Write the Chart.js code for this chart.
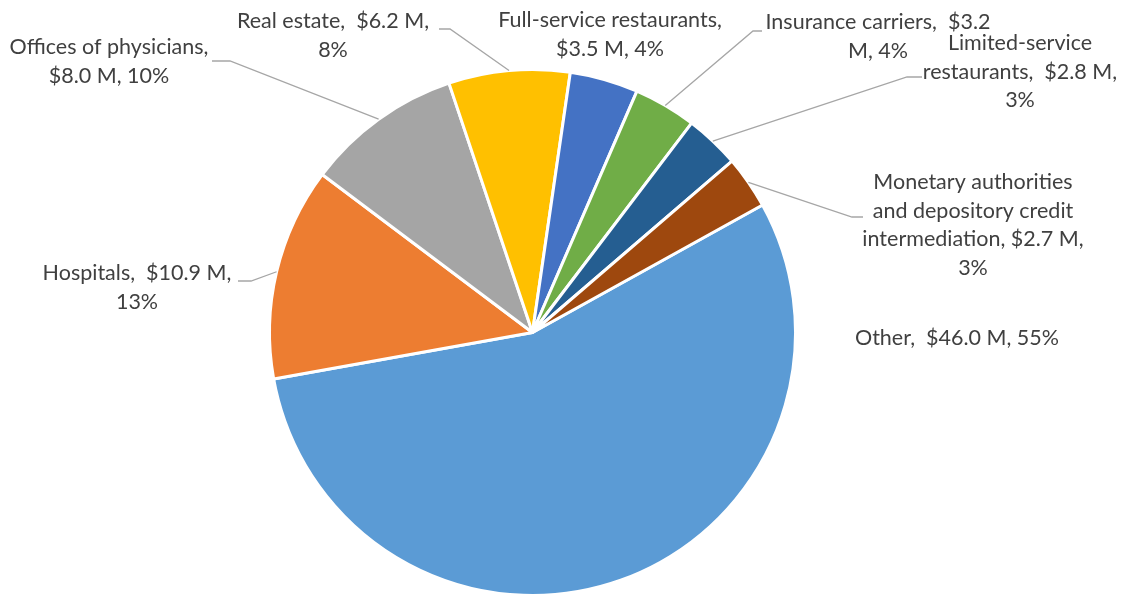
<!DOCTYPE html>
<html>
<head>
<meta charset="utf-8">
<script src="https://cdn.jsdelivr.net/npm/chart.js@4.4.1/dist/chart.umd.min.js"></script>
<style>
  html, body { margin: 0; padding: 0; background: #fff; }
  #wrap { width: 1132px; height: 597px; }
</style>
</head>
<body>
<div id="wrap"><canvas id="pieChart" width="1132" height="597"></canvas></div>
<script>
const categories = [
    'Other',
    'Hospitals',
    'Offices of physicians',
    'Real estate',
    'Full-service restaurants',
    'Insurance carriers',
    'Limited-service restaurants',
    'Monetary authorities and depository credit intermediation'
];
const amounts = [46.0, 10.9, 8.0, 6.2, 3.5, 3.2, 2.8, 2.7];   // $ M
const percents = [55, 13, 10, 8, 4, 4, 3, 3];
const colors = ['#5B9BD5', '#ED7D31', '#A5A5A5', '#FFC000', '#4472C4', '#70AD47', '#255E91', '#9E480E'];

// where each data label wraps onto a new line
const breaks = [[], ['13%'], ['$8.0'], ['8%'], ['$3.5'], ['M, 4%'], ['restaurants,', '3%'], ['and', 'intermediation,', '3%']];

// label layout: centre x, first line y, leader [startX, y, elbowX] or null
const labelPos = [
    [957, 338, null],
    [137, 273, [238, 281, 251]],
    [109, 47, [212, 61, 230]],
    [333, 21, [439, 29, 450]],
    [610, 20, null],
    [878, 22, [762, 31, 753]],
    [1020, 43, [922, 77, 907]],
    [973, 182, [863, 217, 852]]
];

const FONT = '21.5px Lato, "Open Sans", sans-serif';
const LINE_H = 28.7;

function labelLines(i) {
    const text = categories[i] + ',  $' + amounts[i].toFixed(1) + ' M, ' + percents[i] + '%';
    const lines = [];
    let from = 0;
    breaks[i].forEach(b => {
        const at = text.indexOf(b, from);
        lines.push(text.slice(from, at).trim());
        from = at;
    });
    lines.push(text.slice(from).trim());
    // Excel drops the doubled space once a category has wrapped
    return lines.map(l => (lines.length > 3 ? l.replace(/\s{2,}/g, ' ') : l));
}

const pieLabels = {
    id: 'pieLabels',
    afterDatasetsDraw(chart) {
        const c = chart.ctx;
        const arcs = chart.getDatasetMeta(0).data;
        c.save();
        arcs.forEach((arc, i) => {
            const p = arc.getProps(['x', 'y', 'startAngle', 'endAngle', 'outerRadius'], true);
            const mid = (p.startAngle + p.endAngle) / 2;
            const [cx, y0, lead] = labelPos[i];

            if (lead) {
                c.strokeStyle = '#A6A6A6';
                c.lineWidth = 1.3;
                c.beginPath();
                c.moveTo(lead[0], lead[1]);
                c.lineTo(lead[2], lead[1]);
                c.lineTo(p.x + Math.cos(mid) * p.outerRadius, p.y + Math.sin(mid) * p.outerRadius);
                c.stroke();
            }

            c.fillStyle = '#404040';
            c.font = FONT;
            c.textAlign = 'center';
            c.textBaseline = 'middle';
            labelLines(i).forEach((line, k) => c.fillText(line, cx, y0 + k * LINE_H));
        });
        c.restore();
    }
};

new Chart(document.getElementById('pieChart'), {
    type: 'pie',
    data: {
        labels: categories,
        datasets: [{
            data: amounts,
            backgroundColor: colors,
            borderColor: '#ffffff',
            borderWidth: 3
        }]
    },
    options: {
        responsive: false,
        animation: false,
        rotation: 61,
        layout: { padding: { left: 268, right: 335, top: 68, bottom: 0 } },
        plugins: {
            legend: { display: false },
            tooltip: { enabled: false }
        }
    },
    plugins: [pieLabels]
});
</script>
</body>
</html>
